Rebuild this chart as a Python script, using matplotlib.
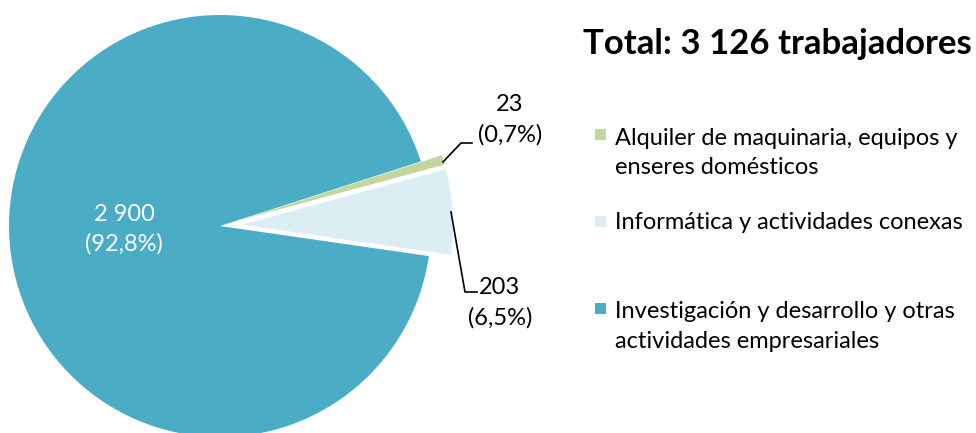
import matplotlib
matplotlib.use("Agg")
import matplotlib.pyplot as plt
from matplotlib.patches import Rectangle

categories = ["Informática y actividades conexas",
              "Alquiler de maquinaria, equipos y enseres domésticos",
              "Investigación y desarrollo y otras actividades empresariales"]
values = [203, 23, 2900]
colors = ["#DAEEF3", "#C3D69B", "#4BACC6"]
legend_order = [1, 0, 2]
legend_labels = ["Alquiler de maquinaria, equipos y\nenseres domésticos",
                 "Informática y actividades conexas",
                 "Investigación y desarrollo y otras\nactividades empresariales"]
title = "Total: 3 126 trabajadores"

total = sum(values)

def fmt_num(v):
    return f"{v:,}".replace(",", " ")

def fmt_pct(v):
    return f"({v / total * 100:.1f}%)".replace(".", ",")

plt.rcParams['font.family'] = ['Lato', 'DejaVu Sans']

W, H = 976, 433
fig = plt.figure(figsize=(W / 100, H / 100), dpi=100)
ax = fig.add_axes([0, 0, 1, 1])

cx, cy, R = 220, H - 226, 211
wedges, _ = ax.pie(values, colors=colors, startangle=-8.2, counterclock=True,
                   explode=[22, 22, 0], center=(cx, cy), radius=R,
                   frame=True, wedgeprops=dict(linewidth=0))
ax.set_xlim(0, W)
ax.set_ylim(0, H)
ax.set_aspect('equal')
ax.axis('off')

FS = 17
# main slice label
ax.text(124, H - 229, fmt_num(values[2]) + "\n" + fmt_pct(values[2]),
        color="white", fontsize=FS, ha="center", va="center", linespacing=1.45)

# green label with leader
ax.plot([443, 461, 472], [H - 162, H - 143, H - 143], color="black", lw=1.2)
ax.text(510, H - 120, fmt_num(values[1]) + "\n" + fmt_pct(values[1]),
        color="black", fontsize=FS, ha="center", va="center", linespacing=1.5)

# light blue label with leader
ax.plot([451, 465, 477], [H - 212, H - 292, H - 292], color="black", lw=1.2)
ax.text(500, H - 303, fmt_num(values[0]) + "\n" + fmt_pct(values[0]),
        color="black", fontsize=FS, ha="center", va="center", linespacing=1.5)

# title
ax.text(583, H - 54, title, fontsize=25, fontweight="bold",
        ha="left", va="baseline")

# legend
sq_y = [134.5, 221, 308.5]
base_y = [145, 229, 318]
for idx, sy, by, lab in zip(legend_order, sq_y, base_y, legend_labels):
    ax.add_patch(Rectangle((595, H - sy - 5.5), 11, 11, facecolor=colors[idx],
                           edgecolor="none"))
    lines = lab.split("\n")
    for k, line in enumerate(lines):
        ax.text(615, H - by - 29.5 * k, line, fontsize=FS, ha="left",
                va="baseline", color="black")

fig.savefig("out.png", dpi=100)
